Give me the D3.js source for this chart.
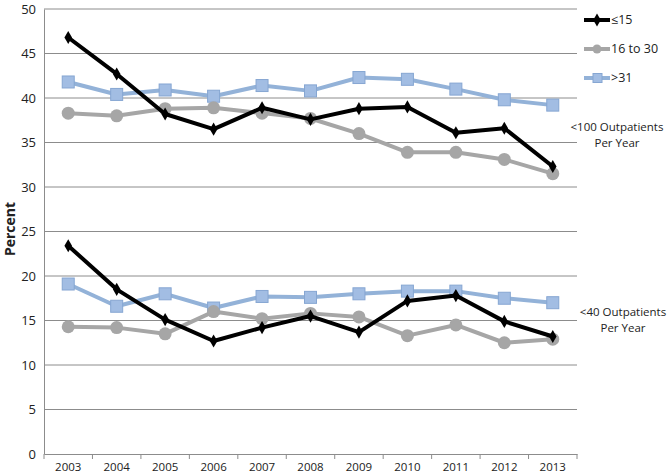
<!DOCTYPE html>
<html>
<head>
<meta charset="utf-8">
<script src="https://cdn.jsdelivr.net/npm/d3@7"></script>
<style>
  body { margin: 0; background: #fff; }
  svg text { font-family: "Open Sans", "Liberation Sans", sans-serif; fill: #222; }
</style>
</head>
<body>
<div id="chart"></div>
<script>
const years = ["2003","2004","2005","2006","2007","2008","2009","2010","2011","2012","2013"];
const yTicks = [0, 5, 10, 15, 20, 25, 30, 35, 40, 45, 50];

// <100 outpatients per year
const upLow = [46.8, 42.7, 38.2, 36.5, 38.9, 37.6, 38.8, 39.0, 36.1, 36.6, 32.3];
const upMid = [38.3, 38.0, 38.8, 38.9, 38.3, 37.7, 36.0, 33.9, 33.9, 33.1, 31.5];
const upHigh = [41.8, 40.4, 40.9, 40.2, 41.4, 40.8, 42.3, 42.1, 41.0, 39.8, 39.2];

// <40 outpatients per year
const loLow = [23.4, 18.5, 15.1, 12.7, 14.2, 15.5, 13.7, 17.2, 17.8, 14.9, 13.2];
const loMid = [14.3, 14.2, 13.5, 16.0, 15.2, 15.8, 15.4, 13.3, 14.5, 12.5, 12.9];
const loHigh = [19.1, 16.6, 18.0, 16.4, 17.7, 17.6, 18.0, 18.3, 18.3, 17.5, 17.0];

const seriesNames = ["\u226415", "16 to 30", ">31"];

const width = 667, height = 474;
const margin = {top: 9, right: 90, bottom: 20, left: 44};

const svg = d3.select('#chart').append('svg')
  .attr('width', width).attr('height', height);

const x = d3.scaleBand().domain(years).range([margin.left, width - margin.right]);
const y = d3.scaleLinear().domain([0, 50]).range([height - margin.bottom, margin.top]);

// gridlines
svg.append('g').selectAll('line')
  .data(yTicks.filter(d => d > 0))
  .enter().append('line')
    .attr('x1', margin.left).attr('x2', width - margin.right)
    .attr('y1', d => y(d)).attr('y2', d => y(d))
    .attr('stroke', '#8c8c8c').attr('stroke-width', 1);

// y axis
const yAxis = svg.append('g')
  .attr('transform', 'translate(' + margin.left + ',0)')
  .call(d3.axisLeft(y).tickValues(yTicks).tickSize(0).tickPadding(8));
yAxis.select('.domain').attr('stroke', '#8c8c8c');
yAxis.selectAll('text').style('font-size', '13px');

// x axis, ticks between categories
const xAxis = svg.append('g')
  .attr('transform', 'translate(0,' + y(0) + ')')
  .call(d3.axisBottom(x).tickSize(0).tickPadding(9));
xAxis.select('.domain').attr('stroke', '#8c8c8c');
xAxis.selectAll('text').style('font-size', '11.5px');
xAxis.selectAll('.sep')
  .data(d3.range(years.length + 1))
  .enter().append('line')
    .attr('class', 'sep')
    .attr('x1', i => margin.left + i * x.step()).attr('x2', i => margin.left + i * x.step())
    .attr('y1', 0).attr('y2', 5)
    .attr('stroke', '#8c8c8c');

svg.append('text')
  .attr('transform', 'translate(15,' + 229 + ') rotate(-90)')
  .attr('text-anchor', 'middle')
  .style('font-size', '14px').style('font-weight', 'bold')
  .text('Percent');

const cx = d => x(d) + x.bandwidth() / 2;
const line = vals => d3.line().x((d, i) => cx(years[i])).y(d => y(d))(vals);

const styles = [
  {stroke: '#000000', marker: 'diamond', fill: '#000000', w: 4},
  {stroke: '#a6a6a6', marker: 'circle', fill: '#a6a6a6', w: 4},
  {stroke: '#93b2d8', marker: 'square', fill: '#a2bde3', w: 4}
];

const drawMarker = (g, type, px, py, st) => {
  if (type === 'diamond') {
    g.append('path').attr('d', d3.symbol(d3.symbolDiamond, 50)())
      .attr('transform', 'translate(' + px + ',' + py + ')')
      .attr('fill', st.fill);
  } else if (type === 'circle') {
    g.append('circle').attr('cx', px).attr('cy', py).attr('r', 6.5).attr('fill', st.fill);
  } else {
    g.append('rect').attr('x', px - 6).attr('y', py - 6).attr('width', 12).attr('height', 12)
      .attr('fill', st.fill).attr('stroke', '#86a6d2').attr('stroke-width', 1);
  }
};

const drawSeries = (vals, st) => {
  const g = svg.append('g');
  g.append('path').attr('d', line(vals))
    .attr('fill', 'none').attr('stroke', st.stroke).attr('stroke-width', st.w)
    .attr('stroke-linejoin', 'round');
  vals.forEach((v, i) => drawMarker(g, st.marker, cx(years[i]), y(v), st));
};

// draw order: high, mid, low (low on top)
drawSeries(upHigh, styles[2]);
drawSeries(upMid, styles[1]);
drawSeries(upLow, styles[0]);
drawSeries(loHigh, styles[2]);
drawSeries(loMid, styles[1]);
drawSeries(loLow, styles[0]);

// legend
const legend = svg.append('g');
seriesNames.forEach((name, i) => {
  const ly = 20 + i * 29;
  const st = styles[i];
  legend.append('line').attr('x1', 584).attr('x2', 610).attr('y1', ly).attr('y2', ly)
    .attr('stroke', st.stroke).attr('stroke-width', st.w);
  const mg = legend.append('g');
  if (st.marker === 'diamond') drawMarker(mg, 'diamond', 597, ly, st);
  else if (st.marker === 'circle') {
    mg.append('circle').attr('cx', 597).attr('cy', ly).attr('r', 4.5).attr('fill', st.fill);
  } else {
    mg.append('rect').attr('x', 593).attr('y', ly - 4.5).attr('width', 9).attr('height', 9)
      .attr('fill', st.fill).attr('stroke', '#86a6d2');
  }
  legend.append('text').attr('x', 611).attr('y', ly).attr('dy', '0.35em')
    .style('font-size', '12.5px').text(name);
});

// group annotations
const notes = [
  {lines: ['<100 Outpatients', 'Per Year'], x: 617, y: 127},
  {lines: ['<40 Outpatients', 'Per Year'], x: 623, y: 312}
];
notes.forEach(n => {
  n.lines.forEach((t, j) => {
    svg.append('text').attr('x', n.x).attr('y', n.y + j * 16).attr('dy', '0.35em')
      .attr('text-anchor', 'middle').style('font-size', '11.5px').text(t);
  });
});
</script>
</body>
</html>
